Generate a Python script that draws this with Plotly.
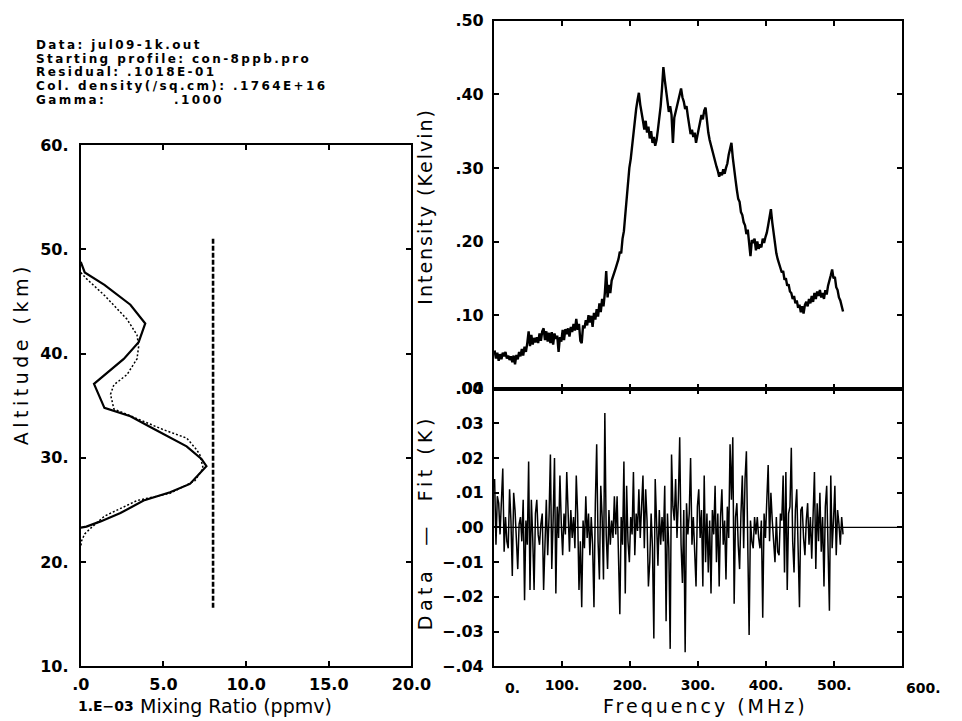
import plotly.graph_objects as go
import numpy as np

W, H = 962, 721

# ---------------- data ----------------
header_lines = [
    "Data: jul09-1k.out",
    "Starting profile: con-8ppb.pro",
    "Residual: .1018E-01",
    "Col. density(/sq.cm): .1764E+16",
    "Gamma:",
]
gamma_value = ".1000"

# retrieved profile (solid): mixing ratio in 1e-3 ppmv vs altitude km
mix_solid = [0.0, 0.24, 1.43, 3.0, 3.9, 3.5, 2.6, 0.8, 1.43, 3.0, 4.4, 6.4, 7.3, 7.6, 6.6, 5.4, 3.8, 2.4, 1.2, 0.34, 0.0]
alt_solid = [48.8, 47.8, 46.6, 44.7, 42.9, 41.1, 39.5, 37.1, 34.8, 34.0, 32.8, 31.1, 29.9, 29.2, 27.5, 26.7, 25.9, 24.7, 23.9, 23.4, 23.3]

# second profile (dotted)
mix_dot = [0.0, 0.34, 1.43, 2.8, 3.4, 3.5, 3.4, 2.8, 2.0, 1.8, 2.0, 3.4, 5.0, 6.4, 7.0, 7.2, 7.4, 6.9, 5.4, 3.4, 1.43, 0.64, 0.24, 0.04, 0.0]
alt_dot = [47.8, 47.2, 45.6, 43.3, 41.8, 40.7, 39.5, 38.0, 37.0, 36.1, 34.7, 33.8, 32.7, 31.9, 30.8, 30.3, 29.0, 27.8, 26.6, 25.9, 24.4, 23.3, 22.7, 22.0, 21.4]

# starting profile (dashed, constant 8 ppb)
mix_start = [8.0, 8.0]
alt_start = [15.6, 51.1]

# spectrum channels: freq = freq_start + freq_step * channel index (MHz)
freq_start = 1.0
freq_step = 2.0
intensity_mK = [
    52, 41, 49, 38, 47, 40, 49, 44, 50, 41,
    45, 39, 44, 36, 45, 33, 46, 40, 50, 44,
    54, 45, 57, 50, 62, 78, 58, 73, 60, 69,
    63, 70, 62, 75, 65, 78, 82, 66, 78, 64,
    76, 62, 77, 60, 75, 68, 72, 50, 70, 64,
    80, 66, 81, 74, 82, 71, 84, 77, 88, 79,
    95, 80, 88, 65, 62, 86, 82, 93, 86, 100,
    90, 99, 84, 103, 94, 108, 98, 116, 104, 122,
    112, 130, 160, 124, 141, 130, 147, 152, 158, 164,
    170, 176, 186, 184, 204, 214, 236, 262, 282, 300,
    312, 330, 348, 362, 380, 392, 402, 386, 372, 364,
    352, 364, 348, 356, 340, 350, 334, 342, 330, 338,
    352, 366, 384, 408, 437, 420, 404, 392, 376, 384,
    372, 334, 368, 376, 384, 392, 400, 408, 396, 390,
    380, 384, 370, 360, 346, 352, 342, 348, 334, 344,
    352, 360, 372, 366, 378, 382, 362, 348, 338, 330,
    326, 318, 310, 302, 296, 288, 294, 290, 298, 292,
    300, 306, 318, 326, 334, 314, 296, 284, 270, 258,
    254, 240, 236, 226, 222, 210, 216, 198, 180, 202,
    198, 204, 188, 200, 190, 196, 192, 204, 198, 206,
    212, 222, 232, 244, 226, 210, 196, 184, 176, 168,
    164, 158, 160, 148, 150, 140, 142, 132, 130, 122,
    126, 116, 120, 110, 114, 104, 112, 102, 114, 118,
    112, 122, 116, 126, 118, 130, 122, 132, 126, 134,
    124, 130, 122, 134, 128, 140, 146, 154, 162, 150,
    152, 138, 134, 124, 120, 110, 105,
]

residual_mK = [
    14, -5, 9, 7, -2, 6, 17, -7, 3, -4,
    -6, 11, 2, -14, 10, 5, -3, -12, 1, 3,
    -4, 8, -21, 2, -5, 19, -18, 8, -3, -18,
    4, 8, -2, -5, 1, 4, -18, -2, 8, -8,
    3, 21, -12, 2, 20, -19, 6, -3, 15, 1,
    -8, 4, -2, 16, 2, -7, 5, -3, 3, -6,
    15, 4, -18, -4, -23, 2, -6, 9, -3, 4,
    -8, 3, -5, -23, 7, 24, -4, -15, 12, 3,
    -15, 33, -2, -12, 5, -5, 2, -3, 9, -2,
    9, -6, -25, 3, -5, 19, -19, 12, -4, -10,
    3, -2, 16, -8, 4, -1, 11, -3, 5, 15,
    -6, 11, 2, -17, -10, 4, -6, -32, 14, -2,
    -11, 5, -5, 3, -4, 12, -27, 4, -6, -35,
    21, 6, 2, 14, -3, 8, 26, -5, -16, 5,
    -36, 7, -2, 4, 20, -5, 3, -7, -17, 6,
    11, -3, 5, -17, 15, -10, 4, -13, 2, -19,
    5, -2, 12, -10, 4, -17, 3, 11, -5, 2,
    -15, 6, -3, 24, 8, 26, -22, 3, 7, -5,
    -12, 4, 15, -6, 14, 22, -8, -31, 2, -4,
    -6, 3, -2, 3, -3, -6, 2, -26, 4, -3,
    8, 18, -4, 10, 2, -5, -10, 3, -7, -8,
    4, 2, 15, -13, 16, -18, 4, 6, 23, -4,
    -13, 5, 11, -6, -23, 5, 6, -3, -8, 2,
    7, -5, 3, -9, 2, 16, -12, 7, -4, 10,
    -7, 3, -17, 6, 12, -5, -24, 15, -6, 2,
    12, -8, 5, 1, -5, 3, -2,
]

# axis ticks
mix_ticks = [0, 5, 10, 15, 20]
mix_ticktext = [".0", "5.0", "10.0", "15.0", "20.0"]
alt_ticks = [10, 20, 30, 40, 50, 60]
alt_ticktext = ["10.", "20.", "30.", "40.", "50.", "60."]
int_ticks = [0.0, 0.1, 0.2, 0.3, 0.4, 0.5]
int_ticktext = [".00", ".10", ".20", ".30", ".40", ".50"]
res_ticks = [-0.04, -0.03, -0.02, -0.01, 0.0, 0.01, 0.02, 0.03, 0.04]
res_ticktext = ["\u2212.04", "\u2212.03", "\u2212.02", "\u2212.01", ".00", ".01", ".02", ".03", ".04"]
freq_ticks = [0, 100, 200, 300, 400, 500, 600]
freq_ticktext = ["0.", "100.", "200.", "300.", "400.", "500.", "600."]

# ---------------- derived ----------------
intensity = np.array(intensity_mK) / 1000.0
residual = np.array(residual_mK) / 1000.0
freq_int = freq_start + freq_step * np.arange(len(intensity))
freq_res = freq_start + freq_step * np.arange(len(residual))

# ---------------- layout geometry (pixels) ----------------
def xp(px):
    return px / W

def yp(py):
    return 1 - py / H

L_X0, L_X1, L_Y0, L_Y1 = 74, 415, 140, 675
R_X0, R_X1 = 500, 921
RT_Y0, RT_Y1 = 12, 390
RB_Y0, RB_Y1 = 390, 675

fig = go.Figure()

fig.add_trace(go.Scatter(x=mix_start, y=alt_start, mode="lines",
                         line=dict(color="black", width=2.6, dash="5px,2px"),
                         xaxis="x", yaxis="y", showlegend=False))
fig.add_trace(go.Scatter(x=mix_dot, y=alt_dot, mode="lines",
                         line=dict(color="black", width=1.5, dash="2px,2px"),
                         xaxis="x", yaxis="y", showlegend=False))
fig.add_trace(go.Scatter(x=mix_solid, y=alt_solid, mode="lines",
                         line=dict(color="black", width=2.2),
                         xaxis="x", yaxis="y", showlegend=False))

fig.add_trace(go.Scatter(x=freq_int, y=intensity, mode="lines",
                         line=dict(color="black", width=2.4),
                         xaxis="x2", yaxis="y2", showlegend=False))
fig.add_trace(go.Scatter(x=freq_res, y=residual, mode="lines",
                         line=dict(color="black", width=1.5),
                         xaxis="x3", yaxis="y3", showlegend=False))

tickfont = dict(family="DejaVu Sans", size=16, color="black", weight="bold")
tickfont_f = dict(family="DejaVu Sans", size=14, color="black", weight="bold")
axis_common = dict(showline=True, linecolor="black", linewidth=2, mirror="ticks",
                   ticks="inside", ticklen=5, tickwidth=2, tickcolor="black",
                   showgrid=False, zeroline=False, tickmode="array")

# the first and last frequency labels sit off their ticks in the original; draw them as annotations
freq_ticktext_axis = [t if v not in (freq_ticks[0], freq_ticks[-1]) else "" for v, t in zip(freq_ticks, freq_ticktext)]

fig.update_layout(
    width=W, height=H, autosize=False,
    margin=dict(l=0, r=0, t=0, b=0),
    paper_bgcolor="white", plot_bgcolor="white",
    xaxis=dict(domain=[xp(L_X0), xp(L_X1)], range=[0, 20], anchor="y",
               tickvals=mix_ticks, ticktext=mix_ticktext, tickfont=tickfont,
               ticklabelstandoff=3, **axis_common),
    yaxis=dict(domain=[yp(L_Y1), yp(L_Y0)], range=[10, 60], anchor="x",
               tickvals=alt_ticks, ticktext=alt_ticktext, tickfont=tickfont,
               ticklabelstandoff=7, **axis_common),
    xaxis2=dict(domain=[xp(R_X0), xp(R_X1)], range=[0, 600], anchor="y2",
                tickvals=freq_ticks, showticklabels=False, **axis_common),
    yaxis2=dict(domain=[yp(RT_Y1), yp(RT_Y0)], range=[0, 0.5], anchor="x2",
                tickvals=int_ticks, ticktext=int_ticktext, tickfont=tickfont,
                ticklabelstandoff=5, **axis_common),
    xaxis3=dict(domain=[xp(R_X0), xp(R_X1)], range=[0, 600], anchor="y3",
                tickvals=freq_ticks, ticktext=freq_ticktext_axis, tickfont=tickfont_f,
                ticklabelstandoff=5, **axis_common),
    yaxis3=dict(domain=[yp(RB_Y1), yp(RB_Y0)], range=[-0.04, 0.04], anchor="x3",
                tickvals=res_ticks, ticktext=res_ticktext, tickfont=tickfont,
                ticklabelstandoff=5, **axis_common),
)

# zero line of residual panel
fig.add_shape(type="line", xref="x3 domain", x0=0, x1=1, yref="y3", y0=0, y1=0,
              line=dict(color="black", width=1.2))

# edge frequency labels
fig.add_annotation(x=xp(519), y=yp(697), xref="paper", yref="paper", text=freq_ticktext[0],
                   showarrow=False, xanchor="center", yanchor="middle", font=tickfont_f, borderpad=0)
fig.add_annotation(x=xp(943), y=yp(697), xref="paper", yref="paper", text=freq_ticktext[-1],
                   showarrow=False, xanchor="center", yanchor="middle", font=tickfont_f, borderpad=0)


def spaced(txt, px):
    return '<span style="letter-spacing:%spx">%s</span>' % (px, txt)


# header text
head_font = dict(family="DejaVu Sans", size=12, color="black", weight="bold")
head_y = [37, 51, 65, 79, 93]
for txt, py in zip(header_lines, head_y):
    fig.add_annotation(x=xp(27), y=yp(py), xref="paper", yref="paper", text=spaced(txt, 2.4),
                       showarrow=False, xanchor="left", yanchor="middle", font=head_font,
                       borderpad=0)
fig.add_annotation(x=xp(169), y=yp(head_y[-1]), xref="paper", yref="paper", text=spaced(gamma_value, 2.4),
                   showarrow=False, xanchor="left", yanchor="middle", font=head_font, borderpad=0)

title_font = dict(family="DejaVu Sans", size=19, color="black")

fig.add_annotation(x=xp(12), y=yp(354), xref="paper", yref="paper", text=spaced("Altitude (km)", 4.5),
                   textangle=-90, showarrow=False, xanchor="center", yanchor="middle", font=title_font)
fig.add_annotation(x=xp(70), y=yp(716), xref="paper", yref="paper", text="1.E\u221203",
                   showarrow=False, xanchor="left", yanchor="middle", borderpad=0,
                   font=dict(family="DejaVu Sans", size=14, color="black", weight="bold"))
fig.add_annotation(x=xp(134), y=yp(716), xref="paper", yref="paper", text="Mixing Ratio (ppmv)",
                   showarrow=False, xanchor="left", yanchor="middle", font=title_font, borderpad=0)
fig.add_annotation(x=xp(429), y=yp(203), xref="paper", yref="paper", text=spaced("Intensity (Kelvin)", 2),
                   textangle=-90, showarrow=False, xanchor="center", yanchor="middle", font=title_font)
fig.add_annotation(x=xp(429), y=yp(527), xref="paper", yref="paper",
                   text=spaced("Data\u00a0\u00a0\u2014\u00a0\u00a0Fit (K)", 4.5),
                   textangle=-90, showarrow=False, xanchor="center", yanchor="middle", font=title_font)
fig.add_annotation(x=xp(718), y=yp(716), xref="paper", yref="paper", text=spaced("Frequency (MHz)", 3),
                   showarrow=False, xanchor="center", yanchor="middle", font=title_font, borderpad=0)

fig.write_html("out.html")
